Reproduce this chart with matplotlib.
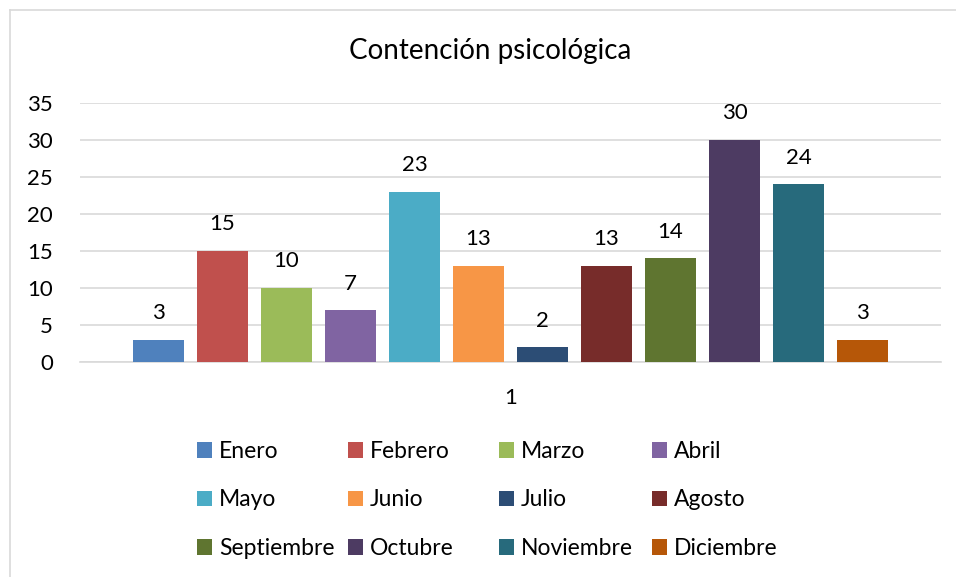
import matplotlib.pyplot as plt
from matplotlib.lines import Line2D
import numpy as np

# Datos
meses = ["Enero", "Febrero", "Marzo", "Abril", "Mayo", "Junio",
         "Julio", "Agosto", "Septiembre", "Octubre", "Noviembre", "Diciembre"]
valores = [3, 15, 10, 7, 23, 13, 2, 13, 14, 30, 24, 3]
colores = ["#4f81bd", "#c0504d", "#9bbb59", "#8064a2", "#4bacc6", "#f79646",
           "#2c4d75", "#772c2a", "#5f7530", "#4d3b62", "#276a7c", "#b65708"]
titulo = "Contención psicológica"
etiqueta_x = "1"

plt.rcParams['font.family'] = ['Lato', 'DejaVu Sans']

W, H = 956, 577
fig = plt.figure(figsize=(W / 100, H / 100), dpi=100)
ax = fig.add_axes([80 / W, 1 - 362 / H, (941 - 80) / W, (362 - 103) / H])

x = np.arange(len(valores))
barras = ax.bar(x, valores, width=0.8, color=colores, zorder=3)
for xi, v in zip(x, valores):
    ax.text(xi, v + 3.6, str(v), ha="center", va="center", fontsize=16, color="#000000")

ax.set_ylim(0, 35)
ax.set_xlim((80 - 158.5) / 64, (941 - 158.5) / 64)
ax.set_yticks(range(0, 36, 5))
ax.set_xticks([(len(valores) - 1) / 2])
ax.set_xticklabels([etiqueta_x])
ax.tick_params(axis="both", length=0, labelsize=16, colors="#000000")
ax.tick_params(axis="x", pad=19)
ax.tick_params(axis="y", pad=19.5)
ax.grid(axis="y", color="#d9d9d9", linewidth=1.2, zorder=0)
for s in ["top", "right", "left"]:
    ax.spines[s].set_visible(False)
ax.spines["bottom"].set_color("#d9d9d9")
ax.spines["bottom"].set_linewidth(1.2)

fig.text(490 / W, 1 - 51 / H, titulo, ha="center", va="center", fontsize=20)

# Leyenda: 4 columnas de igual ancho, llenadas por filas
col_x = [197, 348, 499, 652]
for c in range(4):
    idx = [c, c + 4, c + 8]
    fig.legend([barras[i] for i in idx], [meses[i] for i in idx],
               loc="center left", bbox_to_anchor=(col_x[c] / W, 1 - 500 / H),
               frameon=False, fontsize=16.5, handlelength=0.65, handleheight=0.65,
               handletextpad=0.3, labelspacing=1.2, borderpad=0, borderaxespad=0)

# Borde del gráfico
fig.add_artist(Line2D([10 / W, 10 / W], [0, 1 - 10 / H], color="#d9d9d9", lw=1.2))
fig.add_artist(Line2D([10 / W, 1], [1 - 10 / H, 1 - 10 / H], color="#d9d9d9", lw=1.2))

fig.savefig("out.png", dpi=100)
